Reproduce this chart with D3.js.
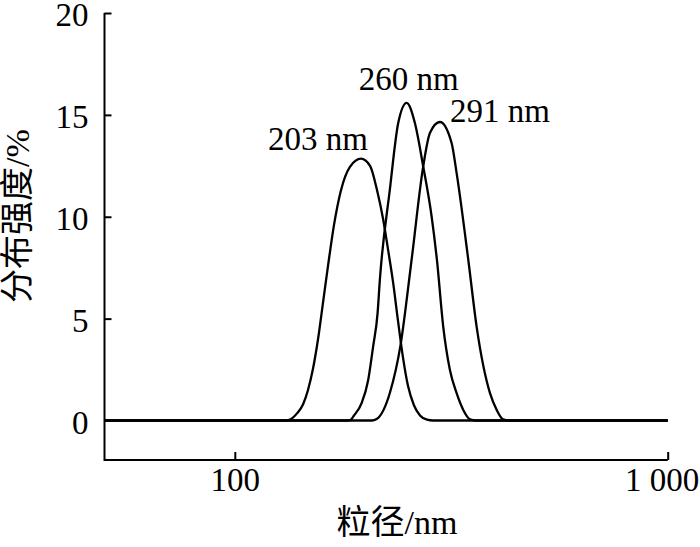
<!DOCTYPE html>
<html>
<head>
<meta charset="utf-8">
<script src="https://cdn.jsdelivr.net/npm/d3@7"></script>
<style>
  body { margin: 0; background: #fff; }
  text { font-family: "Liberation Serif", "Noto Sans CJK SC", serif; fill: #000; }
</style>
</head>
<body>
<svg id="chart" width="700" height="547"></svg>
<script>
// particle size (nm) vs. distribution intensity (%)
var sizes203 = [50, 130.6, 134.1, 139.2, 143.8, 147.6, 151.6, 155.7, 159.9, 164.2, 169.5, 175.9, 184.5, 195.7, 205.3, 213.1, 220.0, 225.9, 232.0, 238.2, 244.6, 251.2, 259.3, 267.8, 277.9, 287.0, 1000];
var vals203  = [0, 0, 0.05, 0.35, 0.8, 1.5, 2.55, 4.0, 5.8, 7.6, 9.6, 11.3, 12.45, 12.85, 12.5, 11.3, 9.9, 8.4, 6.8, 4.9, 3.1, 1.7, 0.75, 0.25, 0.04, 0, 0];

var sizes260 = [50, 182.4, 186.1, 187.7, 196.3, 203.3, 208.7, 213.7, 216.3, 228.1, 238.5, 249.4, 260.6, 272.4, 284.9, 293.0, 303.0, 314.0, 325.4, 337.1, 349.3, 360.6, 1000];
var vals260  = [0, 0, 0.07, 0.19, 0.85, 1.99, 3.63, 5.27, 6.90, 11.33, 14.6, 15.59, 14.6, 12.47, 10.01, 7.89, 4.61, 2.48, 1.34, 0.52, 0.06, 0, 0];

var sizes291 = [50, 207.3, 212.6, 228.1, 241.5, 256.1, 272.4, 282.3, 297.7, 316.8, 325.4, 346.2, 361.9, 388.6, 402.7, 416.4, 429.9, 1000];
var vals291  = [0, 0, 0.07, 1.35, 3.71, 7.89, 12.47, 14.11, 14.65, 13.62, 12.14, 7.89, 4.61, 1.34, 0.52, 0.06, 0, 0];

var peakLabels = ["203 nm", "260 nm", "291 nm"];
var yTicks = [0, 5, 10, 15, 20];
var xTicks = [100, 1000];

var svg = d3.select("#chart");

var leftX = 104.5, rightX = 667.7, topY = 13, zeroY = 420.5, axisY = 460;

var x = d3.scaleLog().domain([50, 1000]).range([leftX, rightX]);
var y = d3.scaleLinear().domain([0, 20]).range([zeroY, topY]);

// axes
var yAxis = d3.axisLeft(y).tickValues(yTicks).tickSize(-7).tickPadding(16);
var gy = svg.append("g").attr("transform", "translate(" + leftX + ",0)").call(yAxis);
gy.select(".domain").remove();
gy.selectAll("line").attr("stroke", "#000").attr("stroke-width", 2);
gy.selectAll("text").style("font-size", "33px").attr("dy", "0.38em");

var xAxis = d3.axisBottom(x).tickValues(xTicks).tickSize(-8).tickPadding(8)
  .tickFormat(function (d) { return d === 1000 ? "1 000" : d; });
var gx = svg.append("g").attr("transform", "translate(0," + axisY + ")").call(xAxis);
gx.select(".domain").remove();
gx.selectAll("line").attr("stroke", "#000").attr("stroke-width", 2);
gx.selectAll("text").style("font-size", "33px").attr("dy", "0.71em")
  .attr("dx", function (d) { return d === 1000 ? -6 : 0; });

svg.append("path")
  .attr("d", "M" + leftX + "," + topY + "V" + axisY + "H" + rightX)
  .attr("fill", "none").attr("stroke", "#000").attr("stroke-width", 2);

// curves
var series = [
  d3.zip(sizes203, vals203),
  d3.zip(sizes260, vals260),
  d3.zip(sizes291, vals291)
];

var line = d3.line()
  .x(function (d) { return x(d[0]); })
  .y(function (d) { return y(d[1]); })
  .curve(d3.curveMonotoneX);

svg.selectAll(".curve").data(series).enter().append("path")
  .attr("class", "curve")
  .attr("d", line)
  .attr("fill", "none").attr("stroke", "#000").attr("stroke-width", 2.3);

// peak labels
var labelPlace = [
  { dx: 7, dy: -9, anchor: "end" },
  { dx: 2, dy: -13, anchor: "middle" },
  { dx: 10, dy: 0, anchor: "start" }
];
series.forEach(function (s, i) {
  var pk = s.reduce(function (a, b) { return b[1] > a[1] ? b : a; });
  svg.append("text")
    .attr("x", x(pk[0]) + labelPlace[i].dx)
    .attr("y", y(pk[1]) + labelPlace[i].dy)
    .attr("text-anchor", labelPlace[i].anchor)
    .style("font-size", "33px")
    .text(peakLabels[i]);
});

// axis titles
svg.append("text")
  .attr("x", 397).attr("y", 534)
  .attr("text-anchor", "middle").style("font-size", "34px")
  .text("粒径/nm");

svg.append("text")
  .attr("transform", "translate(29,216) rotate(-90)")
  .attr("text-anchor", "middle").style("font-size", "34px")
  .text("分布强度/%");
</script>
</body>
</html>
